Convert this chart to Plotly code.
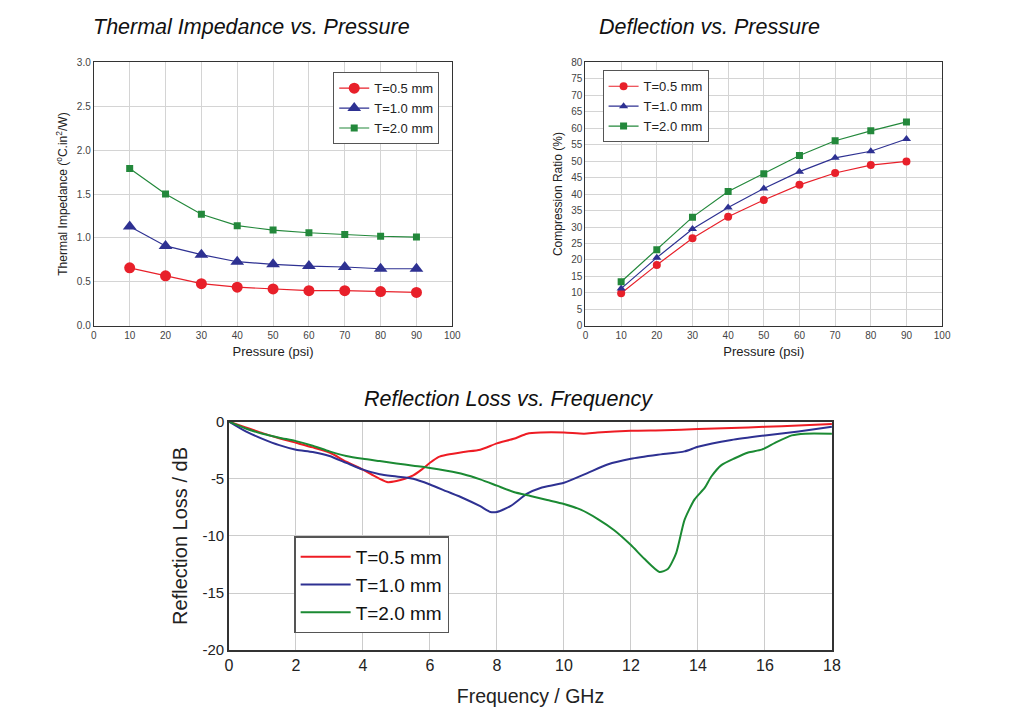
import plotly.graph_objects as go

# ---------------- data ----------------
pressure = [10, 20, 30, 40, 50, 60, 70, 80, 90]
series_names = ["T=0.5 mm", "T=1.0 mm", "T=2.0 mm"]

imp_05 = [0.66, 0.57, 0.48, 0.44, 0.42, 0.40, 0.40, 0.39, 0.38]
imp_10 = [1.13, 0.91, 0.81, 0.73, 0.70, 0.68, 0.67, 0.65, 0.65]
imp_20 = [1.79, 1.50, 1.27, 1.14, 1.09, 1.06, 1.04, 1.02, 1.01]

comp_05 = [9.9, 18.5, 26.6, 33.1, 38.2, 42.8, 46.4, 48.8, 49.9]
comp_10 = [11.3, 20.7, 29.4, 35.9, 41.7, 46.8, 51.0, 53.0, 56.7]
comp_20 = [13.4, 23.1, 33.0, 40.8, 46.2, 51.7, 56.2, 59.2, 61.9]

freq_05 = [0, 0.5, 1, 1.5, 2, 2.5, 3, 3.5, 4, 4.25, 4.5, 4.75, 5, 5.25, 5.5, 5.75,
           6, 6.25, 6.5, 7, 7.5, 8, 8.5, 8.9, 9.3, 10, 10.6, 11, 12, 13, 14, 15, 16, 17, 18]
rl_05 = [0, -0.5, -1.0, -1.45, -1.85, -2.25, -2.7, -3.5, -4.2, -4.6, -5.0, -5.3, -5.2,
         -5.0, -4.7, -4.2, -3.6, -3.1, -2.9, -2.65, -2.45, -1.9, -1.5, -1.05, -0.95,
         -0.95, -1.05, -0.95, -0.8, -0.75, -0.65, -0.55, -0.45, -0.33, -0.2]

freq_10 = [0, 0.5, 1, 1.5, 2, 2.5, 3, 3.5, 4, 4.5, 5, 5.5, 6, 6.5, 7, 7.5, 7.8, 8,
           8.4, 8.9, 9.3, 10, 10.7, 11.3, 12, 12.8, 13.6, 14, 15, 16, 17, 18]
rl_10 = [0, -0.85, -1.5, -2.05, -2.45, -2.65, -3.0, -3.6, -4.2, -4.6, -4.8, -5.0,
         -5.5, -6.1, -6.7, -7.4, -7.9, -7.9, -7.4, -6.3, -5.8, -5.35, -4.5, -3.75,
         -3.25, -2.9, -2.6, -2.2, -1.6, -1.2, -0.85, -0.45]

freq_20 = [0, 0.5, 1, 1.5, 2, 2.5, 3, 3.5, 4, 4.5, 5, 5.5, 6, 6.5, 7, 7.5, 8, 8.5, 9,
           9.5, 10, 10.5, 11, 11.5, 12, 12.4, 12.85, 13.1, 13.35, 13.6, 13.9, 14.2,
           14.4, 14.7, 15.1, 15.5, 15.9, 16.3, 16.8, 17.2, 18]
rl_20 = [0, -0.6, -1.05, -1.4, -1.7, -2.1, -2.6, -3.0, -3.25, -3.45, -3.65, -3.85,
         -4.05, -4.3, -4.6, -5.05, -5.6, -6.15, -6.5, -6.85, -7.2, -7.7, -8.5, -9.5,
         -10.8, -12.0, -13.15, -12.9, -11.5, -8.6, -6.8, -5.8, -4.8, -3.8, -3.2, -2.7,
         -2.45, -1.85, -1.2, -1.05, -1.05]

rl_tickvals = [0, -5, -10, -15, -20]
rl_ticktext = ["0", "-5", "-10", "-15", "-20"]

# ---------------- styles ----------------
RED = "#e8202a"
BLUE = "#2e3192"
GREEN = "#23883b"
FONT = "Liberation Sans, Arial, sans-serif"

fig = go.Figure()

# top-left: thermal impedance
for name, vals, col, sym, sz in zip(series_names, [imp_05, imp_10, imp_20],
                                     [RED, BLUE, GREEN],
                                     ["circle", "triangle-up", "square"], [11, 12, 7]):
    fig.add_trace(go.Scatter(x=pressure, y=vals, name=name, mode="lines+markers",
                             line=dict(color=col, width=1.2),
                             marker=dict(color=col, symbol=sym, size=sz),
                             xaxis="x", yaxis="y", legend="legend"))

# top-right: compression ratio
for name, vals, col, sym, sz in zip(series_names, [comp_05, comp_10, comp_20],
                                     [RED, BLUE, GREEN],
                                     ["circle", "triangle-up", "square"], [8, 8, 7]):
    fig.add_trace(go.Scatter(x=pressure, y=vals, name=name, mode="lines+markers",
                             line=dict(color=col, width=1.2),
                             marker=dict(color=col, symbol=sym, size=sz),
                             xaxis="x2", yaxis="y2", legend="legend2"))

# bottom: reflection loss
for name, fx, vals, col in zip(series_names, [freq_05, freq_10, freq_20],
                               [rl_05, rl_10, rl_20], ["#ee1c24", BLUE, "#1b8a33"]):
    fig.add_trace(go.Scatter(x=fx, y=vals, name=name, mode="lines",
                             line=dict(color=col, width=2, shape="spline", smoothing=0.6),
                             xaxis="x3", yaxis="y3", legend="legend3"))

small_tick = dict(family=FONT, size=10, color="#444")
grid = "#d4d4d4"

def top_x(domain):
    return dict(domain=domain, range=[0, 100], dtick=10, tick0=0, showgrid=True,
                gridcolor=grid, showline=True, linecolor="#333", linewidth=1.2,
                mirror=True, ticks="", tickfont=small_tick, zeroline=False,
                title=dict(text="Pressure (psi)",
                           font=dict(family=FONT, size=13, color="#222"), standoff=6))

ydom_top = [0.5569, 0.9350]
ytitle_font = dict(family=FONT, size=12, color="#222")

fig.update_layout(
    width=1036, height=714,
    margin=dict(l=0, r=0, t=0, b=0),
    paper_bgcolor="white", plot_bgcolor="white",
    font=dict(family=FONT),
    xaxis=top_x([0.0800, 0.4304]),
    yaxis=dict(domain=ydom_top, anchor="x", range=[0, 3.0], dtick=0.5,
               tickformat=".1f", showgrid=True, gridcolor=grid, showline=True,
               linecolor="#333", linewidth=1.2, mirror=True, ticks="",
               tickfont=small_tick, zeroline=False,
               title=dict(text="Thermal Impedance (<sup>o</sup>C.in<sup>2</sup>/W)",
                          font=ytitle_font, standoff=6)),
    xaxis2=dict(top_x([0.5606, 0.9092]), anchor="y2"),
    yaxis2=dict(domain=ydom_top, anchor="x2", range=[0, 80], dtick=5,
                showgrid=True, gridcolor=grid, showline=True, linecolor="#333",
                linewidth=1.2, mirror=True, ticks="", tickfont=small_tick,
                zeroline=False,
                title=dict(text="Compression Ratio (%)", font=ytitle_font, standoff=6)),
    xaxis3=dict(domain=[0.2121, 0.8015], anchor="y3", range=[0, 18], dtick=2,
                showgrid=True, gridcolor="#cccccc", showline=True, linecolor="#333",
                linewidth=1.5, mirror=True, ticks="", zeroline=False,
                tickfont=dict(family=FONT, size=16, color="#222"),
                title=dict(text="Frequency / GHz",
                           font=dict(family=FONT, size=19.5, color="#222"), standoff=16)),
    yaxis3=dict(domain=[0.0915, 0.4194], anchor="x3", range=[-20, 0],
                tickmode="array", tickvals=rl_tickvals, ticktext=rl_ticktext,
                showgrid=True, gridcolor="#cccccc", showline=True, linecolor="#333",
                linewidth=1.5, mirror=True, ticks="", zeroline=False,
                tickfont=dict(family=FONT, size=15, color="#222"),
                title=dict(text="Reflection Loss / dB",
                           font=dict(family=FONT, size=20, color="#222"), standoff=10)),
    legend=dict(x=0.3140, y=0.9207, xanchor="left", yanchor="top",
                bgcolor="white", bordercolor="#555", borderwidth=1,
                font=dict(family=FONT, size=13, color="#222"),
                tracegroupgap=0, itemwidth=30),
    legend2=dict(x=0.5773, y=0.9235, xanchor="left", yanchor="top",
                 bgcolor="white", bordercolor="#555", borderwidth=1,
                 font=dict(family=FONT, size=13, color="#222"),
                 tracegroupgap=0, itemwidth=30, entrywidth=108),
    legend3=dict(x=0.2758, y=0.2548, xanchor="left", yanchor="top",
                 bgcolor="white", bordercolor="#555", borderwidth=1.5,
                 font=dict(family=FONT, size=19, color="#111"),
                 tracegroupgap=0, itemwidth=50, entrywidth=160),
    showlegend=True,
)

title_font = dict(family=FONT, size=21.5, color="#111", style="italic")
for text, x, y in [("Thermal Impedance vs. Pressure", 0.2337, 0.9851),
                   ("Deflection vs. Pressure", 0.6820, 0.9851),
                   ("Reflection Loss vs. Frequency", 0.4853, 0.4524)]:
    fig.add_annotation(text=text, x=x, y=y, xref="paper", yref="paper",
                       xanchor="center", yanchor="middle", showarrow=False,
                       font=title_font)

fig.write_html("out.html")
